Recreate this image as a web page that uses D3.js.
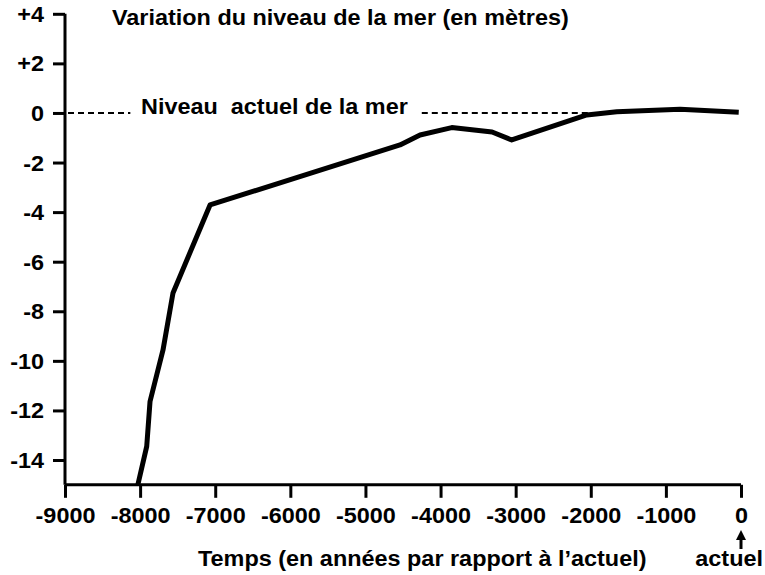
<!DOCTYPE html>
<html>
<head>
<meta charset="utf-8">
<script src="https://cdn.jsdelivr.net/npm/d3@7"></script>
<style>
  html, body { margin: 0; padding: 0; background: #fff; }
  text { font-family: Arial, "Liberation Sans", sans-serif; font-weight: bold; fill: #000; }
</style>
</head>
<body>
<div id="vis-display"></div>
<script>
// Sea level variation over the last 9000 years (in metres, vs. today).

const YEARS  = [-8030, -7912, -7868, -7695, -7562, -7069, -4540, -4273, -3851, -3314, -3052, -2053, -1654, -811, -30];
const LEVELS = [-15, -13.45, -11.64, -9.56, -7.26, -3.71, -1.29, -0.89, -0.59, -0.77, -1.09, -0.08, 0.05, 0.15, 0.03];

const X_TICKS = [-9000, -8000, -7000, -6000, -5000, -4000, -3000, -2000, -1000, 0];
const Y_TICKS = [4, 2, 0, -2, -4, -6, -8, -10, -12, -14];
const Y_LABELS = ["+4", "+2", "0", "-2", "-4", "-6", "-8", "-10", "-12", "-14"];

const TITLE   = "Variation du niveau de la mer (en mètres)";
const X_TITLE = "Temps (en années par rapport à l’actuel)";
const REF_LABEL = "Niveau\u00a0 actuel de la mer";
const NOW_LABEL = "actuel";

const W = 765, H = 575;
const FS = 21.5;      // font size
const SX = 1.09;      // the original lettering is a bit wide

const x = d3.scaleLinear().domain([-9000, 0]).range([65, 741]);
const y = d3.scaleLinear().domain([-15, 4]).range([484.8, 13.8]);

const svg = d3.select("#vis-display").append("svg")
  .attr("width", W)
  .attr("height", H);

// text stretched horizontally around its anchor point
function label(px, py, str, anchor = "start") {
  return svg.append("text")
    .attr("transform", `translate(${px},${py}) scale(${SX},1)`)
    .attr("text-anchor", anchor)
    .style("font-size", FS + "px")
    .text(str);
}

// ── Axes ──────────────────────────────────────────────────────────────────

const yAxis = svg.append("g")
  .attr("transform", `translate(${x(-9000)},0)`)
  .call(d3.axisLeft(y).tickValues(Y_TICKS).tickSize(12).tickPadding(9)
    .tickFormat((d, i) => Y_LABELS[i]));

const xAxis = svg.append("g")
  .attr("transform", `translate(0,${y(-15)})`)
  .call(d3.axisBottom(x).tickValues(X_TICKS).tickSize(13).tickPadding(10)
    .tickFormat(d => String(d)));

[yAxis, xAxis].forEach(ax => {
  ax.select(".domain").attr("stroke", "#000").attr("stroke-width", 3);
  ax.selectAll(".tick line").attr("stroke", "#000").attr("stroke-width", 3);
  ax.selectAll("text").style("font-size", FS + "px").attr("fill", "#000");
});
// plain axis lines, no outer ticks
yAxis.select(".domain").attr("d", `M0,${y(4)}V${y(-15)}`);
xAxis.select(".domain").attr("d", `M${x(-9000)},0H${x(0)}`);

// stretch tick labels the same way as the other texts
yAxis.selectAll(".tick text")
  .attr("dy", "0.35em")
  .attr("transform", function () {
    const tx = +d3.select(this).attr("x");
    return `translate(${tx},0) scale(${SX},1) translate(${-tx},0)`;
  });
xAxis.selectAll(".tick text")
  .attr("transform", `scale(${SX},1)`);

// ── Present sea level (dashed) ─────────────────────────────────────────────

const dash = [[-8960, -8130], [-4250, -2000]];
dash.forEach(([a, b]) => {
  svg.append("line")
    .attr("x1", x(a)).attr("x2", x(b))
    .attr("y1", y(0)).attr("y2", y(0))
    .attr("stroke", "#000").attr("stroke-width", 2)
    .attr("stroke-dasharray", "6,4");
});

label(141, y(0) + 1, REF_LABEL);

// ── Curve ─────────────────────────────────────────────────────────────────

const pts = YEARS.map((t, i) => [t, LEVELS[i]]);
svg.append("path")
  .datum(pts)
  .attr("fill", "none")
  .attr("stroke", "#000")
  .attr("stroke-width", 5)
  .attr("stroke-linejoin", "round")
  .attr("d", d3.line().x(d => x(d[0])).y(d => y(d[1])));

// ── Titles ────────────────────────────────────────────────────────────────

label(112, 25, TITLE);
label(198, 566, X_TITLE);
label(763, 566, NOW_LABEL, "end");

// arrow pointing at 0
const ax0 = x(0);
svg.append("line")
  .attr("x1", ax0).attr("x2", ax0)
  .attr("y1", 549).attr("y2", 538)
  .attr("stroke", "#000").attr("stroke-width", 3);
svg.append("path")
  .attr("d", `M${ax0 - 5},540L${ax0},530L${ax0 + 5},540Z`)
  .attr("fill", "#000");
</script>
</body>
</html>
